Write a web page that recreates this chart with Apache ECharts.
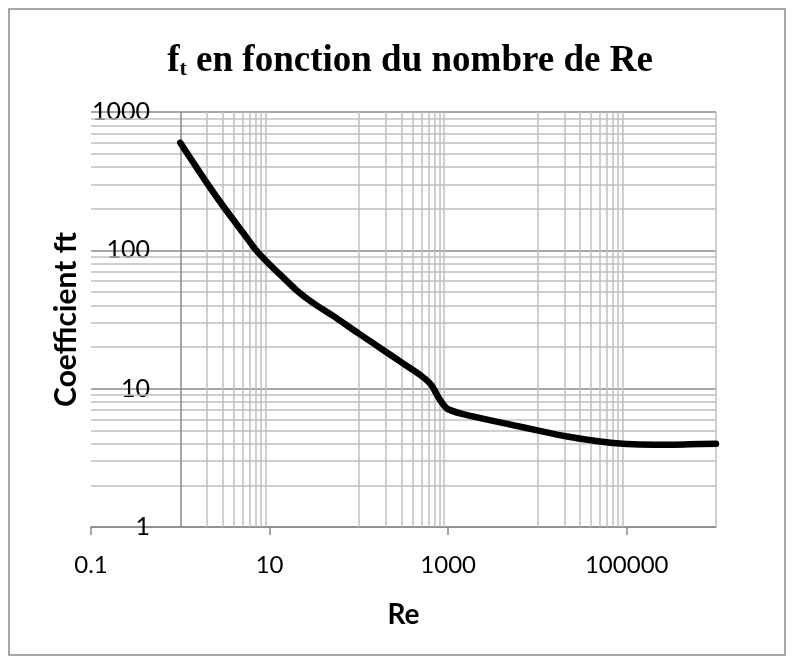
<!DOCTYPE html>
<html><head><meta charset="utf-8">
<script src="https://cdn.jsdelivr.net/npm/echarts@6/dist/echarts.min.js"></script>
<style>html,body{margin:0;padding:0;background:#fff}#c{width:794px;height:664px}</style>
</head><body><div id="c"></div>
<script>
// Data (Re, coefficient ft)
const reValues = [1, 2, 3, 5, 7, 10, 15, 20, 30, 50, 100, 200, 300, 500, 650, 800, 1000, 2000, 5000, 10000, 20000, 50000, 100000, 200000, 500000, 1000000];
const ftValues = [600, 305, 210, 135, 101, 79, 61.5, 51.5, 42, 34, 25, 18.5, 15.5, 12.4, 10.6, 8.4, 7.1, 6.25, 5.5, 5.0, 4.55, 4.15, 3.98, 3.93, 3.96, 4.0];

// Axis tick labels
const xTickLabels = ['0.1', '10', '1000', '100000'];
const yTickLabels = ['1', '10', '100', '1000'];

// Minor gridline positions (data units)
const xGridMinor = [2,3,4,5,6,7,8,9, 100,200,300,400,500,600,700,800,900, 10000,20000,30000,40000,50000,60000,70000,80000,90000, 1000000];
const yGridMinor = [2,3,4,5,6,7,8,9, 20,30,40,50,60,70,80,90, 200,300,400,500,600,700,800,900];
const yAxisCross = 1;

const chart = echarts.init(document.getElementById('c'), null, {renderer: 'canvas'});
const sans = 'Lato';
const lightGrid = '#bfbfbf';
const darkGrid = '#898989';

const option = {
  animation: false,
  backgroundColor: '#fff',
  title: {
    text: '{f|f}{t|t}{r| en fonction du nombre de Re}',
    left: 405, top: 35, textAlign: 'center',
    textStyle: {
      rich: {
        f: {fontFamily: 'Liberation Serif', fontWeight: 'bold', fontSize: 37, color: '#000', verticalAlign: 'bottom', lineHeight: 40},
        t: {fontFamily: 'Liberation Serif', fontWeight: 'bold', fontSize: 22, color: '#000', verticalAlign: 'bottom', lineHeight: 34},
        r: {fontFamily: 'Liberation Serif', fontWeight: 'bold', fontSize: 37, color: '#000', verticalAlign: 'bottom', lineHeight: 40}
      }
    }
  },
  graphic: [{
    type: 'rect', silent: true, z: -10,
    shape: {x: 9, y: 9, width: 776, height: 646},
    style: {fill: 'none', stroke: '#8a8a8a', lineWidth: 1.5}
  }],
  grid: {left: 91, right: 78, top: 112, bottom: 137, containLabel: false},
  xAxis: {
    type: 'log', logBase: 10, min: 0.1, max: 1000000, interval: 2,
    axisLine: {show: true, lineStyle: {color: darkGrid, width: 1.5}},
    axisTick: {show: true, length: 8, lineStyle: {color: darkGrid, width: 1.5}},
    axisLabel: {
      showMaxLabel: false, margin: 26, fontFamily: sans, fontSize: 24, color: '#000',
      formatter: function (v) {
        const i = Math.round((Math.log10(v) + 1) / 2);
        return xTickLabels[i] !== undefined && Math.abs(Math.log10(v) - (2 * i - 1)) < 1e-6 ? xTickLabels[i] : '';
      }
    },
    splitLine: {show: false},
    minorTick: {show: false},
    name: 'Re', nameLocation: 'middle', nameGap: 74,
    nameTextStyle: {fontFamily: sans, fontWeight: 'bold', fontSize: 28, color: '#000'}
  },
  yAxis: {
    type: 'log', logBase: 10, min: 1, max: 1000, interval: 1,
    axisLine: {show: false}, axisTick: {show: false},
    axisLabel: {
      margin: -59, fontFamily: sans, fontSize: 25, color: '#000',
      formatter: function (v) {
        const i = Math.round(Math.log10(v));
        return yTickLabels[i] !== undefined ? yTickLabels[i] : '';
      }
    },
    splitLine: {show: true, lineStyle: {color: darkGrid, width: 1.5}},
    name: 'Coefficient ft', nameLocation: 'middle', nameGap: 10,
    nameTextStyle: {fontFamily: sans, fontWeight: 'bold', fontSize: 30, color: '#000'}
  },
  series: [
    {
      type: 'line', data: [], z: 1, silent: true,
      markLine: {
        silent: true, symbol: ['none', 'none'], animation: false,
        label: {show: false}, emphasis: {disabled: true},
        lineStyle: {type: 'solid', color: lightGrid, width: 1.5},
        data: xGridMinor.map(v => ({xAxis: v})).concat(yGridMinor.map(v => ({yAxis: v})))
      }
    },
    {
      type: 'line', data: [], z: 2, silent: true,
      markLine: {
        silent: true, symbol: ['none', 'none'], animation: false,
        label: {show: false}, emphasis: {disabled: true},
        lineStyle: {type: 'solid', color: darkGrid, width: 1.5},
        data: [{xAxis: yAxisCross}]
      }
    },
    {
      type: 'line', z: 5, smooth: 0.3, showSymbol: false, silent: true,
      data: reValues.map((r, i) => [r, ftValues[i]]),
      lineStyle: {color: '#000', width: 6.5, cap: 'round', join: 'round'}
    }
  ]
};
chart.setOption(option);
</script>
</body></html>
